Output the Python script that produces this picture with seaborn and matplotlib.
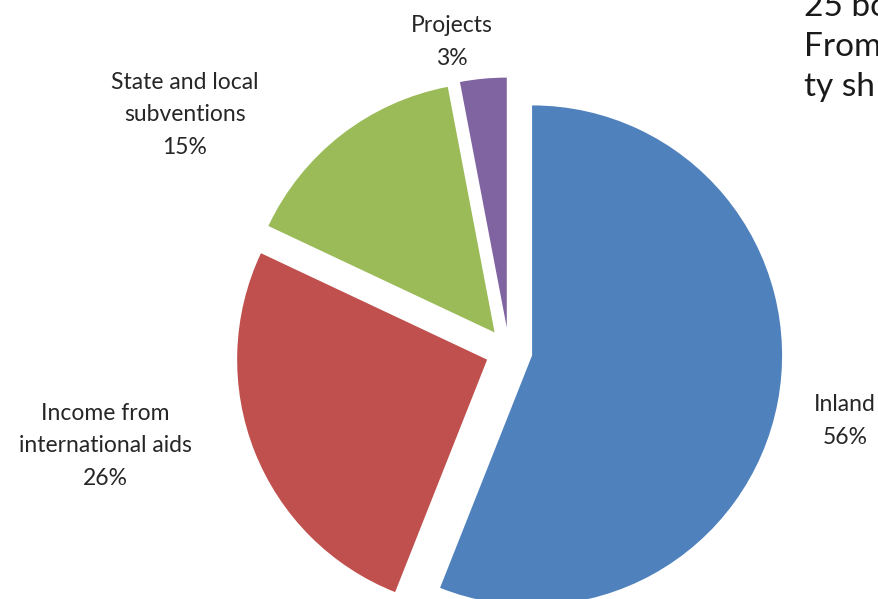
import matplotlib
matplotlib.use('Agg')
import matplotlib.pyplot as plt
import seaborn as sns

# data
CATEGORIES = ['Inland', 'Income from\ninternational aids', 'State and local\nsubventions', 'Projects']
SHARES = [56, 26, 15, 3]
COLORS = ['#4F81BD', '#C0504D', '#9BBB59', '#8064A2']

# label centres in pixel coords (x from left, y from top)
LABEL_POS = [(845, 421), (105, 446), (185, 115), (452, 42)]
DOC_LINES = ['25 bo', 'From', 'ty sh']

W, H = 879, 599
RADIUS = 250
TEXT_COLOR = '#262626'

sns.set_theme(style='white')
plt.rcParams['font.family'] = ['Lato', 'DejaVu Sans']

fig = plt.figure(figsize=(W / 100, H / 100), dpi=100)
ax = fig.add_axes([0, 0, 1, 1])

# explode is in data units here (pixels), ~0.094 of the radius
ax.pie(SHARES, colors=COLORS, startangle=90, counterclock=False,
       explode=[0.094 * RADIUS] * len(SHARES), radius=RADIUS,
       center=(509, H - 351), wedgeprops=dict(linewidth=0), frame=True)
ax.set_xlim(0, W)
ax.set_ylim(0, H)
ax.set_aspect('equal')
ax.axis('off')

for name, share, (px, py) in zip(CATEGORIES, SHARES, LABEL_POS):
    ax.text(px, H - py, f'{name}\n{share}%', ha='center', va='center',
            multialignment='center', fontsize=16.5, color=TEXT_COLOR,
            linespacing=1.7)

# fragment of the surrounding document text, cut by the crop
for i, line in enumerate(DOC_LINES):
    ax.text(804, H - (16 + 40 * i), line, ha='left', va='baseline',
            fontsize=24, color='#1a1a1a')

fig.savefig('out.png', dpi=100)
